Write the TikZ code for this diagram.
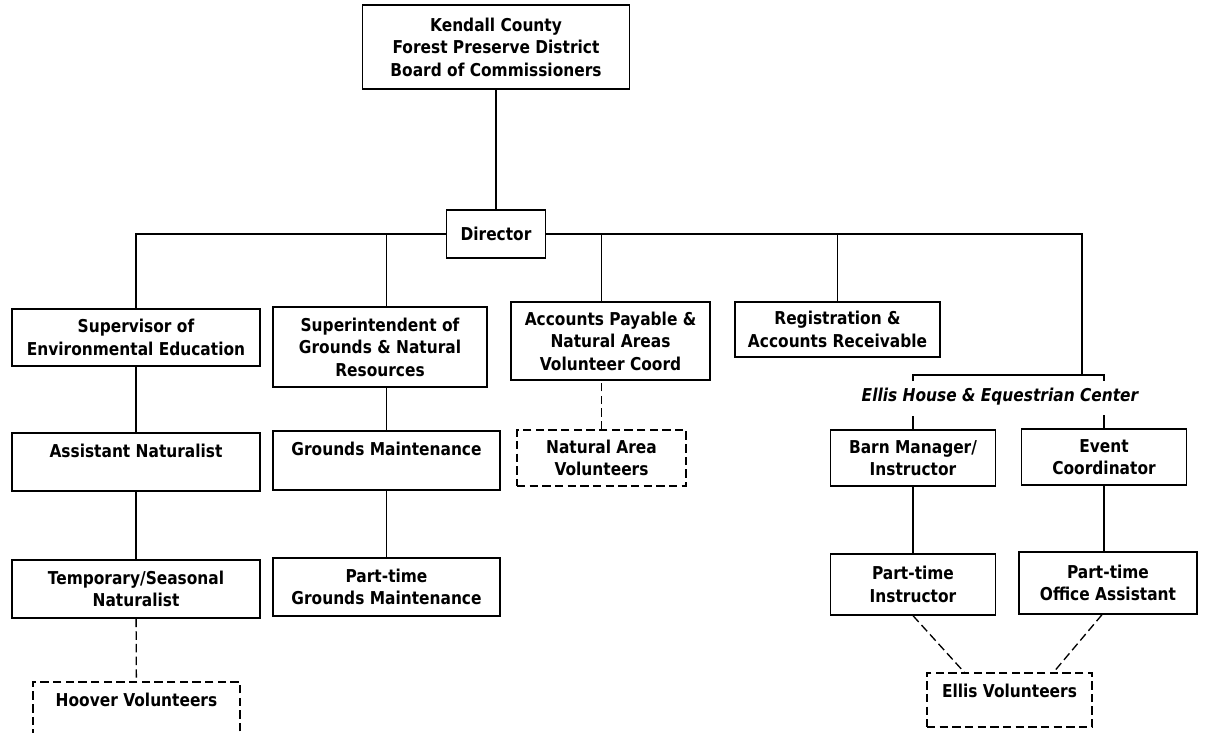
\documentclass[tikz,border=0pt]{standalone}
\usepackage{fontspec}
\setmainfont{DejaVu Sans}[FakeStretch=0.87]
\usepackage{tikz}
\usetikzlibrary{positioning}

\begin{document}
\begin{tikzpicture}[x=0.025cm, y=-0.025cm, line width=0.95pt,
    box/.style={draw, align=center, inner sep=2pt,
                font=\bfseries\fontsize{12.6}{16}\selectfont},
    topbox/.style={box, text height=0.6cm, text depth=#1, inner ysep=0pt},
    vbox/.style={box, dashed, dash pattern=on 6pt off 3pt},
    dline/.style={dashed, dash pattern=on 6pt off 3pt},
    lbl/.style={font=\bfseries\itshape\fontsize{12.6}{16}\selectfont}
  ]
    \clip (0,0) rectangle (1212,732);

    % Top
    \node[box, minimum width=6.675cm, minimum height=2.1cm] (board) at (496,47)
      {Kendall County\\Forest Preserve District\\Board of Commissioners};
    \node[box, minimum width=2.475cm, minimum height=1.2cm] (director) at (496,234)
      {Director};

    % First row
    \node[box, minimum width=6.2cm, minimum height=1.425cm] (supEE) at (136,337.5)
      {Supervisor of\\Environmental Education};
    \node[box, minimum width=5.35cm, minimum height=2cm] (supGr) at (380,347)
      {Superintendent of\\Grounds \& Natural\\Resources};
    \node[box, minimum width=4.975cm, minimum height=1.95cm] (acctP) at (610.5,341)
      {Accounts Payable \&\\Natural Areas\\Volunteer Coord};
    \node[box, minimum width=5.125cm, minimum height=1.375cm] (reg) at (837.5,329.5)
      {Registration \&\\Accounts Receivable};

    % Ellis House
    \coordinate (ellis) at (1082,375);
    \coordinate (brL) at (913,375);
    \coordinate (brR) at (1104,375);
    \node[lbl] (ellisLbl) at (1000,397) {Ellis House \& Equestrian Center};

    % Second row
    \node[topbox=0.85cm, minimum width=6.2cm] (assistNat) at (136,462)
      {Assistant Naturalist};
    \node[topbox=0.875cm, minimum width=5.675cm] (gm) at (386.5,460.5)
      {Grounds Maintenance};
    \node[vbox, minimum width=4.225cm, minimum height=1.4cm] (nav) at (601.5,458)
      {Natural Area\\Volunteers};
    \node[box, minimum width=4.125cm, minimum height=1.4cm] (barn) at (913,458)
      {Barn Manager/\\Instructor};
    \node[box, minimum width=4.125cm, minimum height=1.4cm] (event) at (1104,457)
      {Event\\Coordinator};

    % Third row
    \node[box, minimum width=6.2cm, minimum height=1.45cm] (tempNat) at (136,589)
      {Temporary/Seasonal\\Naturalist};
    \node[box, minimum width=5.675cm, minimum height=1.45cm] (ptgm) at (386.5,587)
      {Part-time\\Grounds Maintenance};
    \node[box, minimum width=4.125cm, minimum height=1.525cm] (ptInstr) at (913,584.5)
      {Part-time\\Instructor};
    \node[box, minimum width=4.45cm, minimum height=1.55cm] (ptOffice) at (1108,583)
      {Part-time\\Office Assistant};

    % Volunteers
    \node[vbox, topbox=1.15cm, minimum width=5.175cm] (hoover) at (136.5,717)
      {Hoover Volunteers};
    \node[vbox, topbox=0.75cm, minimum width=4.125cm] (ellisV) at (1009.5,700)
      {Ellis Volunteers};

    % Lines
    \draw (board) -- (director);
    \draw (director.west) -| (supEE.north);
    \draw (director.west) -| (gm.north |- supGr.north);
    \draw (director.east) -| (nav.north |- acctP.north);
    \draw (director.east) -| (reg.north);
    \draw (director.east) -| (ellis);
    \draw ([yshift=-0.15cm]brL) -- (brL) -- (brR) -- ([yshift=-0.15cm]brR);
    \draw (barn.north) -- ++(0,-13);
    \draw (event.north) -- ++(0,-13);
    \draw (supEE) -- (assistNat);
    \draw (assistNat) -- (tempNat);
    \draw (gm.north) -- (gm.north |- supGr.south);
    \draw (gm) -- (ptgm);
    \draw (barn) -- (ptInstr);
    \draw (event.south) -- (event.south |- ptOffice.north);

    % Volunteer lines
    \draw[dline] (nav.north) -- (nav.north |- acctP.south);
    \draw[dline] (tempNat) -- (hoover);
    \draw[dline] (ptInstr.south) -- ([xshift=0.95cm]ellisV.north west);
    \draw[dline] ([xshift=-0.15cm]ptOffice.south) -- ([xshift=-0.98cm]ellisV.north east);
  \end{tikzpicture}
\end{document}
